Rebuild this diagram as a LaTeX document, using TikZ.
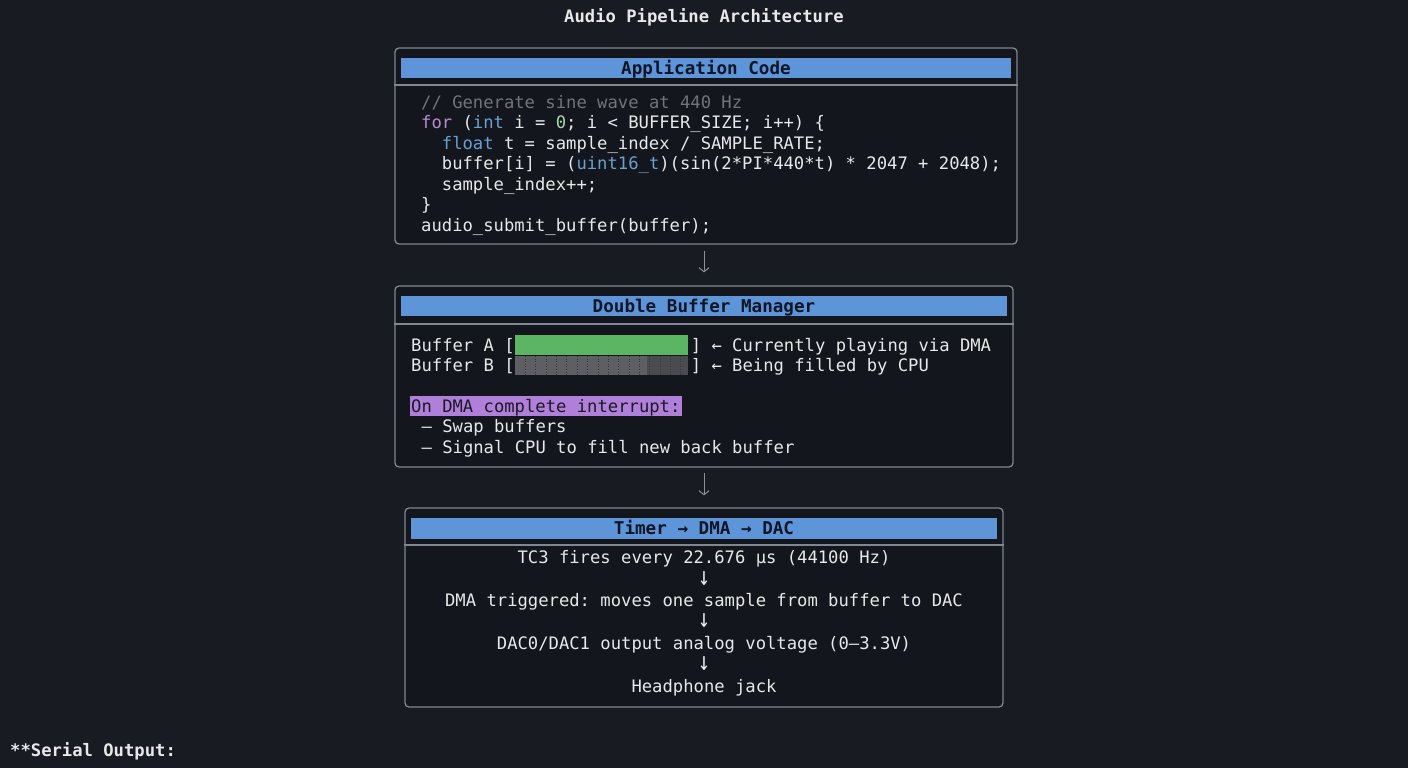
\documentclass[tikz,border=0pt]{standalone}
\usepackage{fontspec}
\usepackage{graphicx}
\setmonofont{DejaVu Sans Mono}
\usetikzlibrary{arrows.meta}
\definecolor{bg}{HTML}{181B21}
\definecolor{boxfill}{HTML}{13171D}
\definecolor{border}{HTML}{7F8791}
\definecolor{hdrblue}{HTML}{5E94D8}
\definecolor{hdrtext}{HTML}{0D1626}
\definecolor{fg}{HTML}{E8E8E8}
\definecolor{cmt}{HTML}{6F757C}
\definecolor{kw}{HTML}{B889D0}
\definecolor{ty}{HTML}{6AA0D0}
\definecolor{num}{HTML}{A8D8A8}
\definecolor{bufA}{HTML}{5CB562}
\definecolor{bufB}{HTML}{5E5F62}
\definecolor{bufBd}{HTML}{4A4B4E}
\definecolor{hl}{HTML}{B07FD9}
\definecolor{hltext}{HTML}{1A1A24}
\definecolor{arrowc}{HTML}{8A9099}
\newcommand{\tallarrow}{\scalebox{1.15}[1.5]{↓}}
\begin{document}
\begin{tikzpicture}[x=1pt,y=-1pt,
  every node/.style={font=\ttfamily\fontsize{17.2}{20.5}\selectfont, text=fg, inner sep=0pt, text height=12.5pt, text depth=0pt},
  codeline/.style={anchor=west},
  boldtext/.style={font=\ttfamily\bfseries\fontsize{17.2}{20.5}\selectfont},
  panel/.style={draw=border, line width=1.3pt, rounded corners=4pt, fill=boxfill},
  hdr/.style={fill=hdrblue, text=hdrtext, font=\ttfamily\bfseries\fontsize{17.6}{20.5}\selectfont},
  sep/.style={draw=border, line width=1.3pt},
  arr/.style={draw=arrowc, line width=1pt, -{Straight Barb[length=4pt,width=10pt]}},
  downglyph/.style={text height=17pt}
]
\fill[bg] (0,0) rectangle (1408,768);
\useasboundingbox (0,0) rectangle (1408,768);

% title
\node[boldtext] (title) at (704,16) {Audio Pipeline Architecture};

% ---------- Box 1 ----------
\node[panel, minimum width=622pt, minimum height=196pt] (b1) at (706,146) {};
\node[hdr, minimum width=610pt, minimum height=20pt] (h1) at (706,68) {Application Code};
\draw[sep] (b1.west |- 0,85) -- (b1.east |- 0,85);
\node[codeline, text=cmt] (c1) at (421,102) {// Generate sine wave at 440 Hz};
\node[codeline] (c2) at (421,122) {\textcolor{kw}{for} (\textcolor{ty}{int} i = \textcolor{num}{0}; i < BUFFER\_SIZE; i++) \{};
\node[codeline] (c3) at (441.7,143) {\textcolor{ty}{float} t = sample\_index / SAMPLE\_RATE;};
\node[codeline] (c4) at (441.7,163) {buffer[i] = (\textcolor{ty}{uint16\_t})(sin(2*PI*440*t) * 2047 + 2048);};
\node[codeline] (c5) at (441.7,184) {sample\_index++;};
\node[codeline] (c6) at (421,204) {\}};
\node[codeline] (c7) at (421,225) {audio\_submit\_buffer(buffer);};

% ---------- Box 2 ----------
\node[panel, minimum width=618pt, minimum height=181pt] (b2) at (704,376.5) {};
\node[hdr, minimum width=606pt, minimum height=20pt] (h2) at (704,306) {Double Buffer Manager};
\draw[sep] (b2.west |- 0,324) -- (b2.east |- 0,324);
\fill[bufA] (515,335) rectangle (688,355);
\fill[bufB] (515,356) rectangle (647,375);
\fill[bufBd] (647,356) rectangle (688,375);
\foreach \i in {1,...,16} {
  \draw[bufBd!70!black, line width=0.6pt, dotted] (515+\i*10.35,356) -- (515+\i*10.35,375);
}
\node[codeline] (ba) at (411,345) {Buffer A [\hphantom{00000000000000000}] ← Currently playing via DMA};
\node[codeline] (bb) at (411,365) {Buffer B [\hphantom{00000000000000000}] ← Being filled by CPU};
\fill[hl] (410,396) rectangle (682,416);
\node[codeline, text=hltext] (irq) at (411,406) {On DMA complete interrupt:};
\node[codeline] (s1) at (421.4,426) {– Swap buffers};
\node[codeline] (s2) at (421.4,447) {– Signal CPU to fill new back buffer};

% ---------- Box 3 ----------
\node[panel, minimum width=598pt, minimum height=199pt] (b3) at (704,607.5) {};
\node[hdr, minimum width=586pt, minimum height=21pt] (h3) at (704,528.5) {Timer → DMA → DAC};
\draw[sep] (b3.west |- 0,545) -- (b3.east |- 0,545);
\node (t1) at (704,557) {TC3 fires every 22.676 μs (44100 Hz)};
\node (a1) at (704,579) {\tallarrow};
\node (t2) at (704,600) {DMA triggered: moves one sample from buffer to DAC};
\node (a2) at (704,621) {\tallarrow};
\node (t3) at (704,643) {DAC0/DAC1 output analog voltage (0–3.3V)};
\node (a3) at (704,664) {\tallarrow};
\node (t4) at (704,686) {Headphone jack};

% connectors
\draw[arr] ([xshift=-2pt,yshift=-6pt]b1.south) -- ([yshift=13pt]b2.north);
\draw[arr] ([yshift=-5pt]b2.south) -- ([yshift=12pt]b3.north);

% footer
\node[boldtext, anchor=west] (serial) at (10,750) {**Serial Output:};
\end{tikzpicture}
\end{document}
